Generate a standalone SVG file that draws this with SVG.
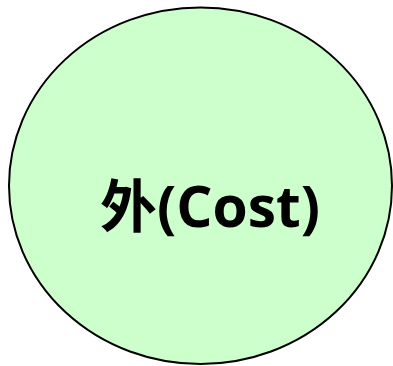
<svg xmlns="http://www.w3.org/2000/svg" width="393" height="366" viewBox="0 0 393 366">
<style>
.node{fill:#CCFFCC;stroke:#000;stroke-width:2}
.lbl{font-family:"Open Sans","Noto Sans CJK SC",sans-serif;font-weight:bold;font-size:57px;fill:#000}
</style>
<rect width="393" height="366" fill="#fff"/>
<g id="node-cost">
<ellipse class="node" cx="200.5" cy="185.7" rx="191.5" ry="178.3"/>
<text class="lbl" x="210" y="227" text-anchor="middle" textLength="220" lengthAdjust="spacingAndGlyphs">外(Cost)</text>
</g>
<g id="connectors"></g>
</svg>
